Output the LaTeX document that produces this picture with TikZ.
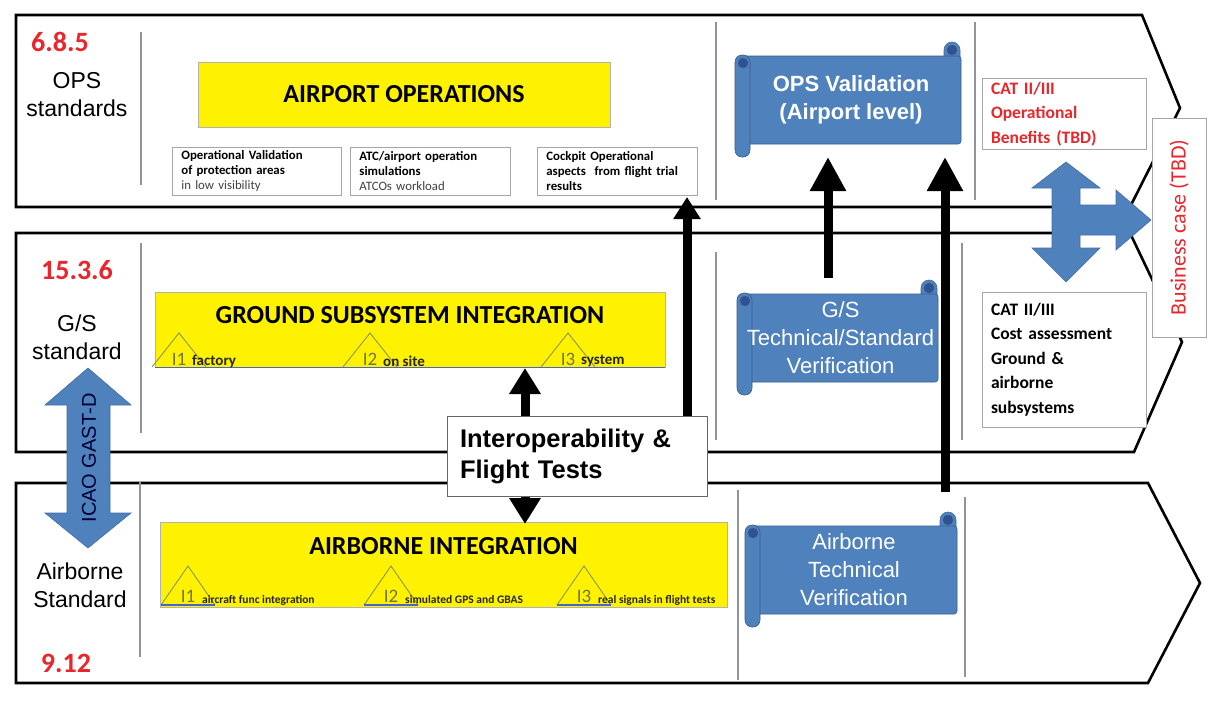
\documentclass[tikz,border=0pt]{standalone}
\usepackage{fontspec}
\setmainfont{Carlito}
\newfontfamily\arialfont{Liberation Sans}
\usetikzlibrary{arrows.meta}
\definecolor{barblue}{HTML}{4F81BD}
\definecolor{baredge}{HTML}{385D8A}
\definecolor{rolldark}{HTML}{2F5390}
\definecolor{numred}{HTML}{E8262C}
\definecolor{trigreen}{HTML}{8C9450}
\definecolor{baseblue}{HTML}{4A64C8}
\tikzset{panel/.style={draw=black,line width=2.6pt,fill=white,line join=miter}}
\tikzset{sep/.style={draw=gray!85,line width=1.3pt}}
\tikzset{numlabel/.style={text=numred,font=\bfseries\fontsize{28}{32}\selectfont}}
\tikzset{stdlabel/.style={align=center,font=\arialfont\fontsize{23}{28}\selectfont}}
\tikzset{yellowbox/.style={draw=gray!60,fill=yellow,line width=0.7pt,inner sep=0pt,font=\bfseries\fontsize{26}{30}\selectfont}}
\tikzset{notebox/.style={draw=gray!70,line width=0.8pt,align=left,anchor=north west,inner xsep=9pt,inner ysep=1pt,minimum height=48pt,font=\bfseries\fontsize{12.8}{15}\selectfont}}
\tikzset{tri/.style={draw=trigreen,line width=0.9pt}}
\tikzset{basestroke/.style={draw=baseblue,line width=1.2pt}}
\tikzset{inum/.style={text=trigreen!80!black,font=\fontsize{19}{20}\selectfont,inner sep=0pt}}
\tikzset{tlab/.style={anchor=west,inner sep=0pt,text=black!85}}
\tikzset{scrolltext/.style={text=white,align=center,inner sep=0pt,font=\arialfont\fontsize{22}{28}\selectfont}}
\tikzset{bigarrow/.style={line width=9pt,-{Triangle[width=34pt,length=34pt]}}}
\tikzset{smallarrow/.style={line width=9pt,-{Triangle[width=30pt,length=26pt]}}}
\tikzset{catbox/.style={draw=gray!70,line width=0.8pt,fill=white,align=left,inner xsep=9pt,font=\bfseries\fontsize{17.5}{24.5}\selectfont}}
\tikzset{bluearrow/.style={fill=barblue,draw=barblue!85!black,line width=0.6pt}}

% scroll banner: name, x1, y1, x2, y2, text
\newcommand{\banner}[6]{%
  \filldraw[bluearrow,rounded corners=8pt] (#4-17,#3) rectangle (#4-1,#3+30);
  \filldraw[bluearrow,draw=baredge,rounded corners=3pt] (#2+6,#3+14) rectangle (#4,#5-13);
  \filldraw[bluearrow,draw=baredge,rounded corners=7pt] (#2,#3+13) rectangle (#2+15,#5);
  \filldraw[fill=rolldark,draw=baredge] (#2+8,#3+21) circle (5pt);
  \filldraw[fill=rolldark,draw=baredge] (#4-9,#3+8) circle (5pt);
  \node[scrolltext] (#1) at ({(#2+#4)/2+3},{(#3+#5)/2}) {#6};
  \path (#2,#3) coordinate (#1 nw) (#4,#5) coordinate (#1 se);
}

\begin{document}
\begin{tikzpicture}[x=1pt,y=-1pt]
\useasboundingbox (0,0) rectangle (1208,704);
% three rows
\draw[panel] (16,15) -- (1142,15) -- (1180,108) -- (1130,207) -- (16,207) -- cycle;
\draw[panel] (16,233) -- (1130,233) -- (1182,342) -- (1134,452) -- (16,452) -- cycle;
\draw[panel] (16,483) -- (1148,483) -- (1200,583) -- (1148,683) -- (16,683) -- cycle;
\foreach \x/\a/\b in {141/32/185, 716/22/200, 975/22/200, 141/243/433, 716/252/440, 962/243/440, 140/482/657, 738/490/680, 965/497/677}
  \draw[sep] (\x,\a) -- (\x,\b);

% row titles
\node[numlabel] (opsnum) at (60,42) {6.8.5};
\node[stdlabel] (opsstd) at (77,95) {OPS\\standards};
\node[numlabel] (gsnum) at (77,270) {15.3.6};
\node[stdlabel] (gsstd) at (77,337) {G/S\\standard};
\node[stdlabel] (abstd) at (80,585) {Airborne\\Standard};
\node[numlabel] (abnum) at (66,663) {9.12};

% integration bars
\node[yellowbox,minimum width=412pt,minimum height=65pt] (apo) at (404,94.5) {AIRPORT OPERATIONS};
\node[yellowbox,minimum width=510pt,text height=31pt,text depth=44pt,anchor=north] (gsi) at (410,292) {GROUND SUBSYSTEM INTEGRATION};
\node[yellowbox,minimum width=567pt,text height=32pt,text depth=53pt,anchor=north] (abi) at (443.5,522) {AIRBORNE INTEGRATION};

\node[notebox,text width=151pt] (note1) at (172,147) {Operational Validation\\of protection areas\\{\mdseries\color{darkgray}in low visibility}};
\node[notebox,text width=142pt] (note2) at (350,147) {ATC/airport operation\\simulations\\{\mdseries\color{darkgray}ATCOs workload}};
\node[notebox,text width=142pt] (note3) at (537,147) {Cockpit Operational\\aspects\ \ from flight trial\\results};

\draw[basestroke] (gsi.south west) -- (gsi.south east);
\foreach \x/\n/\t in {179/1/factory, 370/2/on site, 568/3/system} {
  \draw[tri] (\x-27,367) -- (\x,333) -- (\x+27,367);
  \node[inum] (gsn\n) at (\x,359) {I\n};
  \node[tlab,font=\bfseries\fontsize{15}{16}\selectfont] (gsl\n) at (\x+13,361) {\t};
}
\foreach \x/\n/\t in {188/1/aircraft func integration, 391/2/simulated GPS and GBAS, 584/3/real signals in flight tests} {
  \draw[tri] (\x-27,605) -- (\x,566) -- (\x+27,605);
  \draw[basestroke] (\x-27,605) -- (\x+27,605);
  \node[inum] (abn\n) at (\x,596) {I\n};
  \node[tlab,font=\bfseries\fontsize{11.5}{12}\selectfont] (abl\n) at (\x+14,600) {\t};
}

% verification banners
\banner{opsval}{735}{42}{961}{157}{\bfseries OPS Validation\\\bfseries (Airport level)}
\banner{gsver}{737}{280}{938}{395}{G/S\\Technical/Standard\\Verification}
\banner{abver}{745}{512}{957}{627}{Airborne\\Technical\\Verification}

% cost / benefit
\node[catbox,text=numred,text width=146pt,minimum height=68pt] (benefit) at (1064,114) {CAT II/III\\Operational\\Benefits (TBD)};
\node[catbox,text width=146pt,minimum height=135pt] (cost) at (1064,359.5) {CAT II/III\\Cost assessment\\Ground \&\\airborne\\subsystems};

\filldraw[bluearrow] (1066,162) -- (1032,188) -- (1052,188) -- (1052,248) -- (1032,248) -- (1066,282)
  -- (1100,248) -- (1080,248) -- (1080,235) -- (1116,235) -- (1116,250) -- (1151,220) -- (1116,190)
  -- (1116,205) -- (1080,205) -- (1080,188) -- (1100,188) -- cycle;

\node[draw=gray!70,line width=0.8pt,fill=white,rotate=90,minimum width=219pt,minimum height=54pt,text=numred,font=\fontsize{22}{24}\selectfont] (biz) at (1179,227.5) {Business case (TBD)};

% standards link
\filldraw[bluearrow] (88,368) -- (45,405) -- (67,405) -- (67,513) -- (45,513) -- (88,548)
  -- (131,513) -- (110,513) -- (110,405) -- (131,405) -- cycle;
\node[rotate=90,text=black!80!blue,font=\arialfont\fontsize{20}{22}\selectfont] (icao) at (89,458) {ICAO GAST-D};

% tests
\node[draw=gray!80!black,line width=1pt,fill=white,align=left,text width=234pt,inner xsep=13pt,minimum height=80pt,font=\arialfont\bfseries\fontsize{25.5}{31}\selectfont] (interop) at (577,456) {Interoperability \&\\Flight Tests};
\coordinate (a1) at (687,197);
\coordinate (gstip) at (525,368);
\coordinate (abtip) at (525,524);
\coordinate (a4) at (828,0);
\coordinate (a5) at (945,492);
\draw[smallarrow,-{Triangle[width=26pt,length=22pt]}] (interop.north -| a1) -- (a1);
\draw[smallarrow] (interop.north -| gstip) -- (gstip);
\draw[smallarrow] (interop.south -| abtip) -- (abtip);
\draw[bigarrow] ([yshift=2pt]a4 |- gsver nw) -- (opsval se -| a4);
\draw[bigarrow] (a5) -- (opsval se -| a5);
\end{tikzpicture}
\end{document}
